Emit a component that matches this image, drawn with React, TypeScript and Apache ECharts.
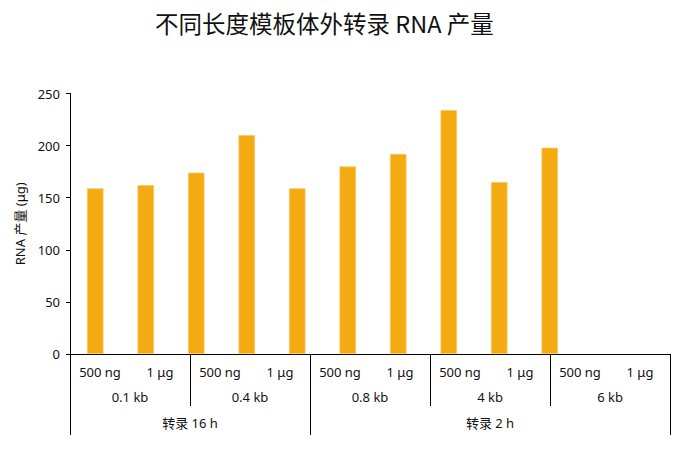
import React, { useEffect, useRef } from "react";
import * as echarts from "echarts";

const title = "不同长度模板体外转录 RNA 产量";
const yAxisName = "RNA 产量 (μg)";
const amountLabels = ["500 ng", "1 μg", "500 ng", "1 μg", "500 ng", "1 μg", "500 ng", "1 μg", "500 ng", "1 μg"];
const lengthLabels = ["0.1 kb", "0.4 kb", "0.8 kb", "4 kb", "6 kb"];
// time groups on an 11-point boundary grid (index = boundary between amount columns)
const timeLabels = ["", "", "转录 16 h", "", "", "", "", "转录 2 h", "", "", ""];
const timeBoundaries = [0, 4, 10];
const yields = [159, 162, 174, 210, 159, 180, 192, 234, 165, 198];
const yTicks = { min: 0, max: 250, interval: 50 };

const FONT = "'Noto Sans', 'Noto Sans CJK SC', sans-serif";

export default function App() {
  const ref = useRef<HTMLDivElement>(null);
  useEffect(() => {
    document.body.style.margin = "0";
    if (!ref.current) return;
    const chart = echarts.init(ref.current, undefined, { renderer: "svg" });
    const textStyle = { color: "#111", fontFamily: FONT, fontSize: 13 };
    const barCats = yields.map((_, i) => "c" + i);
    chart.setOption({
      animation: false,
      textStyle: { fontFamily: FONT },
      title: {
        text: title,
        left: 150,
        top: 6,
        textStyle: { fontFamily: "'Noto Sans CJK SC', sans-serif", fontSize: 23.5, fontWeight: "normal", color: "#111" },
      },
      grid: [
        { left: 70, right: 19, top: 93.5, bottom: 106, containLabel: false },
        { left: 70, width: 505, top: 93.5, bottom: 106, containLabel: false },
      ],
      xAxis: [
        {
          type: "category",
          gridIndex: 0,
          position: "bottom",
          data: amountLabels,
          axisLine: { show: true, lineStyle: { color: "#000", width: 1 } },
          axisTick: { show: false },
          axisLabel: { ...textStyle, margin: 11, interval: 0 },
        },
        {
          type: "category",
          gridIndex: 0,
          position: "bottom",
          data: lengthLabels,
          axisLine: { show: false },
          axisTick: { show: true, length: 52, interval: 0, lineStyle: { color: "#000", width: 1 } },
          axisLabel: { ...textStyle, margin: 36, interval: 0 },
        },
        {
          type: "category",
          gridIndex: 0,
          position: "bottom",
          boundaryGap: false,
          data: timeLabels,
          axisLine: { show: false },
          axisTick: {
            show: true,
            length: 81,
            interval: (index: number) => timeBoundaries.includes(index),
            lineStyle: { color: "#000", width: 1 },
          },
          axisLabel: { ...textStyle, margin: 62, interval: 0 },
        },
        {
          type: "category",
          gridIndex: 1,
          data: barCats,
          show: false,
        },
      ],
      yAxis: [
        {
          type: "value",
          gridIndex: 0,
          min: yTicks.min,
          max: yTicks.max,
          interval: yTicks.interval,
          name: yAxisName,
          nameLocation: "middle",
          nameGap: 40,
          nameTextStyle: { ...textStyle },
          axisLine: { show: true, lineStyle: { color: "#000", width: 1 } },
          axisTick: { show: true, length: 4, lineStyle: { color: "#000" } },
          axisLabel: { ...textStyle, margin: 10 },
          splitLine: { show: false },
        },
        {
          type: "value",
          gridIndex: 1,
          min: yTicks.min,
          max: yTicks.max,
          interval: yTicks.interval,
          show: false,
          splitLine: { show: false },
        },
      ],
      series: [
        {
          type: "bar",
          xAxisIndex: 3,
          yAxisIndex: 1,
          data: yields,
          barWidth: 16.5,
          itemStyle: { color: "#F4AA11", borderColor: "#F8C75E", borderWidth: 0.8 },
        },
      ],
    });
    return () => chart.dispose();
  }, []);
  return <div ref={ref} style={{ width: 689, height: 460 }} />;
}
